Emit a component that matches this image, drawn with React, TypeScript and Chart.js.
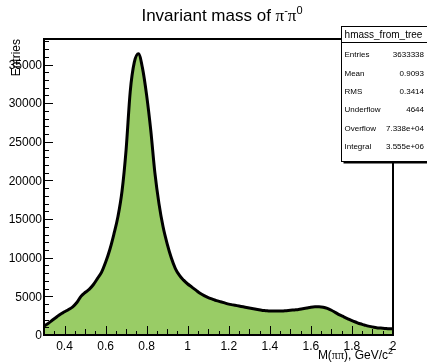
import React, { useEffect, useRef } from "react";
import { Chart, registerables } from "chart.js";

Chart.register(...registerables);

// Bin centres of the pi- pi0 invariant mass histogram (GeV/c^2)
const massBins = [
  0.30, 0.32, 0.34, 0.36, 0.38, 0.40, 0.42, 0.44, 0.46, 0.48,
  0.50, 0.52, 0.54, 0.56, 0.58, 0.60, 0.62, 0.64, 0.66, 0.68,
  0.70, 0.72, 0.74, 0.76, 0.78, 0.80, 0.82, 0.84, 0.86, 0.88,
  0.90, 0.92, 0.94, 0.96, 0.98, 1.00, 1.02, 1.04, 1.06, 1.08,
  1.10, 1.12, 1.14, 1.16, 1.18, 1.20, 1.22, 1.24, 1.26, 1.28,
  1.30, 1.32, 1.34, 1.36, 1.38, 1.40, 1.42, 1.44, 1.46, 1.48,
  1.50, 1.52, 1.54, 1.56, 1.58, 1.60, 1.62, 1.64, 1.66, 1.68,
  1.70, 1.72, 1.74, 1.76, 1.78, 1.80, 1.82, 1.84, 1.86, 1.88,
  1.90, 1.92, 1.94, 1.96, 1.98, 2.00,
];

// Entries per bin
const entries = [
  1150, 1500, 1900, 2300, 2700, 3000, 3300, 3650, 4200, 5000,
  5500, 5900, 6500, 7300, 8100, 9400, 11000, 13000, 15300, 18600,
  24000, 31500, 35300, 36400, 34500, 31000, 26500, 21000, 17000, 14000,
  11800, 10000, 8600, 7700, 7100, 6600, 6200, 5800, 5400, 5100,
  4850, 4650, 4450, 4300, 4150, 4000, 3900, 3800, 3700, 3600,
  3500, 3400, 3300, 3200, 3150, 3100, 3100, 3100, 3100, 3150,
  3200, 3250, 3300, 3400, 3500, 3600, 3650, 3650, 3600, 3450,
  3200, 2900, 2600, 2350, 2100, 1850, 1650, 1450, 1300, 1150,
  1050, 950, 900, 850, 800, 800,
];

const yTickValues = [0, 5000, 10000, 15000, 20000, 25000, 30000, 35000];
const xTickValues = [0.4, 0.6, 0.8, 1.0, 1.2, 1.4, 1.6, 1.8, 2.0];
const xTickLabels = ["0.4", "0.6", "0.8", "1", "1.2", "1.4", "1.6", "1.8", "2"];

const statsTitle = "hmass_from_tree";
const statsLabels = ["Entries", "Mean", "RMS", "Underflow", "Overflow", "Integral"];
const statsValues = ["3633338", "0.9093", "0.3414", "4644", "7.338e+04", "3.555e+06"];

const X_MIN = 0.3;
const X_MAX = 2.0;
const Y_MAX = 38300;

const SANS = "'Liberation Sans', Arial, sans-serif";
const SERIF = "'Liberation Serif', 'Times New Roman', serif";

type Seg = { text: string; font: string; dy: number };

function drawSegs(ctx: CanvasRenderingContext2D, segs: Seg[], x: number, y: number, align: "left" | "right" | "center") {
  let total = 0;
  for (const s of segs) {
    ctx.font = s.font;
    total += ctx.measureText(s.text).width;
  }
  let cx = align === "left" ? x : align === "right" ? x - total : x - total / 2;
  ctx.textAlign = "left";
  for (const s of segs) {
    ctx.font = s.font;
    ctx.fillText(s.text, cx, y + s.dy);
    cx += ctx.measureText(s.text).width;
  }
}

const rootStyle = {
  id: "rootStyle",
  afterDatasetsDraw(chart: any) {
    const ctx: CanvasRenderingContext2D = chart.ctx;
    const { left, right, top, bottom } = chart.chartArea;
    const xs = chart.scales.x;
    const ys = chart.scales.y;
    ctx.save();
    ctx.fillStyle = "#000";
    ctx.strokeStyle = "#000";

    // frame
    ctx.lineWidth = 2;
    ctx.strokeRect(left, top, right - left, bottom - top);

    // y ticks (inside the frame)
    ctx.lineWidth = 1;
    ctx.beginPath();
    for (let v = 0; v <= Y_MAX; v += 1000) {
      const py = Math.round(ys.getPixelForValue(v)) + 0.5;
      const len = v % 5000 === 0 ? 9 : 5;
      ctx.moveTo(left, py);
      ctx.lineTo(left + len, py);
    }
    // x ticks
    for (let i = 7; i <= 40; i++) {
      const v = i * 0.05;
      const px = Math.round(xs.getPixelForValue(v)) + 0.5;
      const len = i % 4 === 0 ? 9 : i % 2 === 0 ? 6 : 4;
      ctx.moveTo(px, bottom);
      ctx.lineTo(px, bottom - len);
    }
    ctx.stroke();

    // tick labels
    ctx.font = `12px ${SANS}`;
    ctx.textBaseline = "middle";
    ctx.textAlign = "right";
    for (const v of yTickValues) {
      ctx.fillText(String(v), left - 2, ys.getPixelForValue(v) + 1);
    }
    ctx.textAlign = "center";
    ctx.textBaseline = "alphabetic";
    xTickValues.forEach((v, i) => {
      ctx.fillText(xTickLabels[i], xs.getPixelForValue(v), bottom + 15);
    });

    // x-axis title
    ctx.textBaseline = "alphabetic";
    drawSegs(
      ctx,
      [
        { text: "M(", font: `12px ${SANS}`, dy: 0 },
        { text: "ππ", font: `12px ${SERIF}`, dy: 0 },
        { text: "), GeV/c", font: `12px ${SANS}`, dy: 0 },
        { text: "2", font: `9px ${SANS}`, dy: -5 },
      ],
      right,
      359,
      "right"
    );

    // y-axis title
    ctx.save();
    ctx.translate(17, top);
    ctx.rotate(-Math.PI / 2);
    ctx.font = `12px ${SANS}`;
    ctx.textAlign = "right";
    ctx.textBaseline = "middle";
    ctx.fillText("Entries", 0, 0);
    ctx.restore();

    // title
    ctx.textBaseline = "alphabetic";
    drawSegs(
      ctx,
      [
        { text: "Invariant mass of ", font: `17px ${SANS}`, dy: 0 },
        { text: "π", font: `17px ${SERIF}`, dy: 0 },
        { text: "-", font: `11px ${SANS}`, dy: -7 },
        { text: "π", font: `17px ${SERIF}`, dy: 0 },
        { text: "0", font: `11px ${SANS}`, dy: -7 },
      ],
      222,
      21,
      "center"
    );

    // statistics box
    const bx = 341.5;
    const by = 26.5;
    const bw = 90;
    const headH = 16;
    const bh = 135;
    const rowStep = 18.4;
    ctx.fillStyle = "#fff";
    ctx.fillRect(bx, by, bw, bh);
    ctx.fillStyle = "#000";
    ctx.fillRect(bx + 2, by + bh, bw, 2);
    ctx.lineWidth = 1;
    ctx.strokeRect(bx, by, bw, bh);
    ctx.beginPath();
    ctx.moveTo(bx, by + headH);
    ctx.lineTo(bx + bw, by + headH);
    ctx.stroke();
    ctx.font = `10px ${SANS}`;
    ctx.textAlign = "center";
    ctx.textBaseline = "middle";
    ctx.fillText(statsTitle, bx + 42, by + headH / 2 + 1);
    ctx.font = `8px ${SANS}`;
    statsLabels.forEach((lab, i) => {
      const cy = 55 + rowStep * i;
      ctx.textAlign = "left";
      ctx.fillText(lab, bx + 3, cy);
      ctx.textAlign = "right";
      ctx.fillText(statsValues[i], 424, cy);
    });

    ctx.restore();
  },
};

export default function App() {
  const ref = useRef<HTMLCanvasElement | null>(null);

  useEffect(() => {
    if (!ref.current) return;
    const chart = new Chart(ref.current, {
      type: "line",
      data: {
        datasets: [
          {
            data: massBins.map((m, i) => ({ x: m, y: entries[i] })),
            borderColor: "#000",
            borderWidth: 3,
            backgroundColor: "rgb(153, 204, 102)",
            fill: "origin",
            pointRadius: 0,
            cubicInterpolationMode: "monotone",
          },
        ],
      },
      options: {
        responsive: false,
        animation: false,
        layout: { padding: { left: 44, right: 34, top: 39, bottom: 27 } },
        scales: {
          x: { type: "linear", min: X_MIN, max: X_MAX, display: false },
          y: { type: "linear", min: 0, max: Y_MAX, display: false },
        },
        plugins: {
          legend: { display: false },
          tooltip: { enabled: false },
          title: { display: false },
        },
      },
      plugins: [rootStyle],
    });
    return () => chart.destroy();
  }, []);

  return (
    <div style={{ position: "fixed", left: 0, top: 0, width: 427, height: 362, background: "#fff" }}>
      <canvas ref={ref} width={427} height={362} style={{ width: 427, height: 362 }} />
    </div>
  );
}
